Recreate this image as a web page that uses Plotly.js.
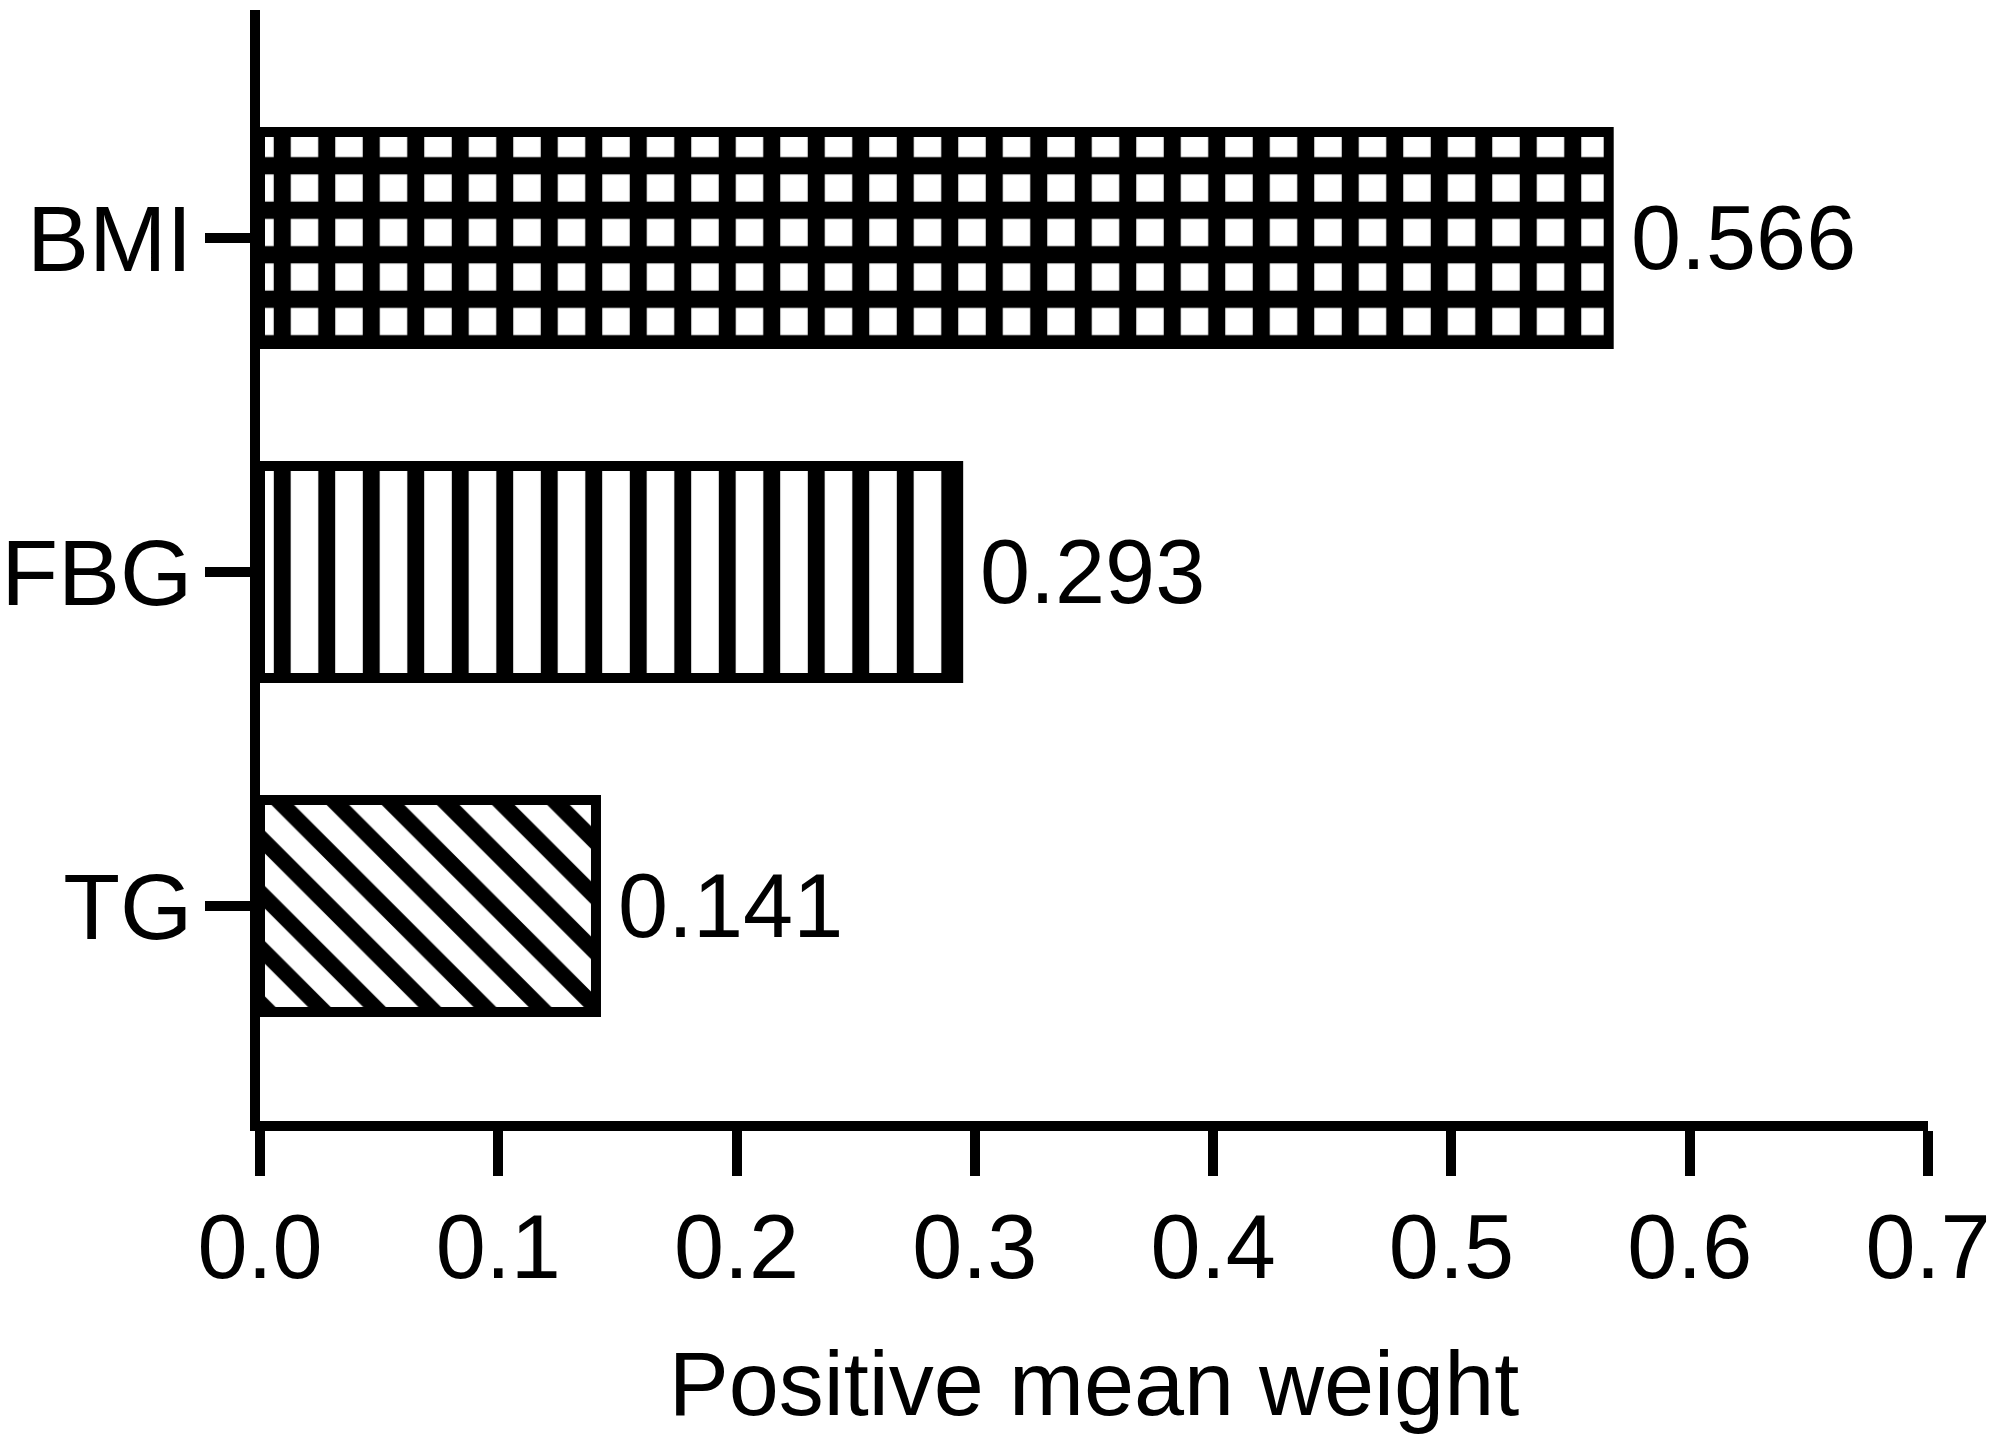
<!DOCTYPE html>
<html>
<head>
<meta charset="utf-8">
<script src="https://cdn.plot.ly/plotly-3.0.1.min.js"></script>
<style>
  html, body { margin: 0; padding: 0; background: #fff; }
  #chart { width: 1995px; height: 1447px; }
</style>
</head>
<body>
<div id="chart"></div>
<script>
// values
const categories = ['BMI', 'FBG', 'TG'];
const weights = [0.566, 0.293, 0.141];
const xTicks = [0, 0.1, 0.2, 0.3, 0.4, 0.5, 0.6, 0.7];

// fill patterns, one per bar (grid, vertical lines, diagonal lines)
const patternShapes = ['+', '|', '\\'];
const patternSizes = [44.5, 44.5, 39];
const patternSolidity = [0.62, 0.38, 0.41];

const FONT = 'Liberation Sans, Arial, Helvetica, sans-serif';

const trace = {
    type: 'bar',
    orientation: 'h',
    x: weights,
    y: categories,
    width: 0.635,
    marker: {
        color: '#ffffff',
        line: { color: '#000000', width: 10 },
        pattern: {
            shape: patternShapes,
            size: patternSizes,
            solidity: patternSolidity,
            fgcolor: '#000000',
            bgcolor: '#ffffff',
            fgopacity: 1
        }
    },
    hoverinfo: 'none'
};

// value labels to the right of each bar
const labels = categories.map((c, i) => ({
    x: weights[i],
    y: c,
    xref: 'x',
    yref: 'y',
    text: weights[i].toFixed(3),
    showarrow: false,
    xanchor: 'left',
    yanchor: 'middle',
    xshift: 20,
    font: { family: FONT, size: 90, color: '#000' }
}));

const layout = {
    width: 1995,
    height: 1447,
    margin: { l: 260, r: 67, t: 10, b: 326 },
    paper_bgcolor: '#ffffff',
    plot_bgcolor: '#ffffff',
    showlegend: false,
    font: { family: FONT, size: 90, color: '#000' },
    xaxis: {
        range: [0, 0.7],
        tickvals: xTicks,
        tickformat: '.1f',
        showline: true,
        linecolor: '#000',
        linewidth: 10,
        ticks: 'outside',
        ticklen: 45,
        tickwidth: 10,
        tickcolor: '#000',
        ticklabelstandoff: -6,
        showgrid: false,
        zeroline: false,
        tickfont: { family: FONT, size: 90, color: '#000' },
        title: {
            text: 'Positive mean weight',
            font: { family: FONT, size: 90, color: '#000' },
            standoff: 60
        }
    },
    yaxis: {
        type: 'category',
        categoryorder: 'array',
        categoryarray: categories.slice().reverse(),
        range: [-0.644, 2.683],
        showline: true,
        linecolor: '#000',
        linewidth: 10,
        ticks: 'outside',
        ticklen: 45,
        tickwidth: 10,
        tickcolor: '#000',
        ticklabelstandoff: -6,
        showgrid: false,
        zeroline: false,
        tickfont: { family: FONT, size: 93, color: '#000' }
    },
    annotations: labels
};

Plotly.newPlot('chart', [trace], layout, { displayModeBar: false, staticPlot: true });
</script>
</body>
</html>
